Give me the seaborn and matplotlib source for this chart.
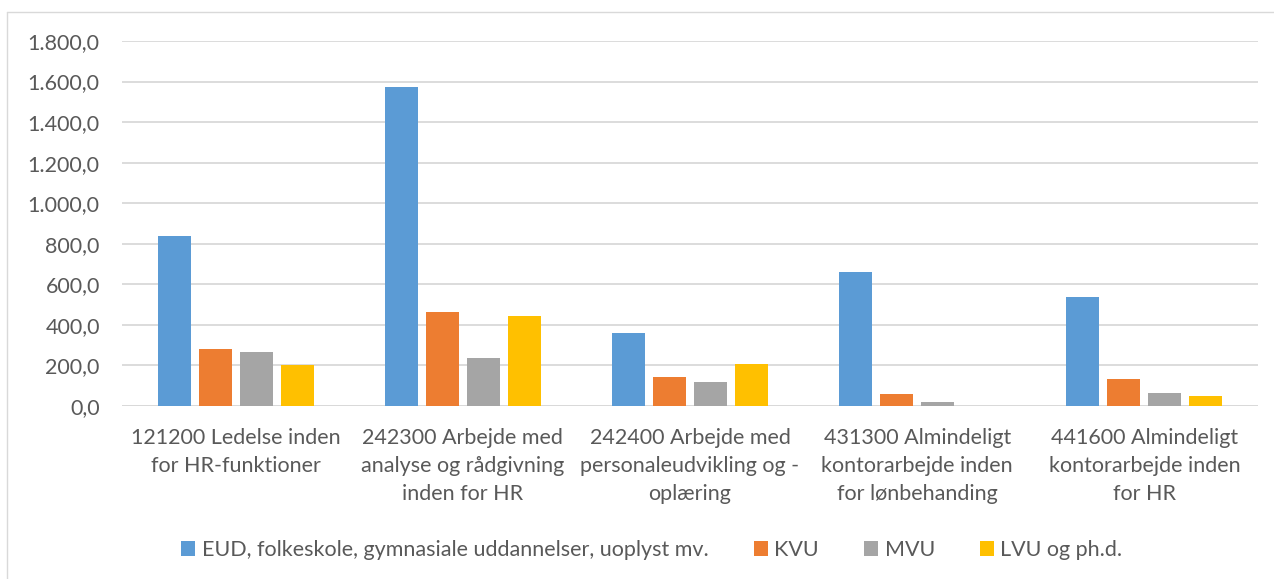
import numpy as np
import pandas as pd
import matplotlib
matplotlib.use("Agg")
import matplotlib.pyplot as plt
from matplotlib.ticker import FuncFormatter, MultipleLocator
from matplotlib.lines import Line2D
import seaborn as sns

# categories (job functions) and education groups
categories = [
    "121200 Ledelse inden\nfor HR-funktioner",
    "242300 Arbejde med\nanalyse og rådgivning\ninden for HR",
    "242400 Arbejde med\npersonaleudvikling og -\noplæring",
    "431300 Almindeligt\nkontorarbejde inden\nfor lønbehanding",
    "441600 Almindeligt\nkontorarbejde inden\nfor HR",
]
series = ["EUD, folkeskole, gymnasiale uddannelser, uoplyst mv.",
          "KVU", "MVU", "LVU og ph.d."]

eud = [838, 1574, 360, 661, 539]
kvu = [282, 462, 145, 58, 132]
mvu = [265, 239, 120, 21, 63]
lvu = [202, 443, 207, np.nan, 51]

colors = ["#5B9BD5", "#ED7D31", "#A5A5A5", "#FFC000"]
TXT = "#595959"
GRID = "#D9D9D9"
FS = 15.5

rows = []
for name, vals in zip(series, [eud, kvu, mvu, lvu]):
    for cat, v in zip(categories, vals):
        rows.append({"kategori": cat, "uddannelse": name, "antal": v})
df = pd.DataFrame(rows)

sns.set_theme(style="white")
plt.rcParams["font.family"] = ["Lato", "DejaVu Sans"]

fig = plt.figure(figsize=(12.74, 5.79), dpi=100)
ax = fig.add_axes([122 / 1274, 1 - 406 / 579, (1258 - 122) / 1274, (406 - 41) / 579])

sns.barplot(data=df, x="kategori", y="antal", hue="uddannelse",
            order=categories, hue_order=series, palette=colors, saturation=1,
            width=0.722, gap=0.195, linewidth=0, errorbar=None, ax=ax,
            legend=True)

ax.set_ylim(0, 1800)
ax.set_xlim(-0.5, len(categories) - 0.5)
ax.yaxis.set_major_locator(MultipleLocator(200))
ax.yaxis.set_major_formatter(FuncFormatter(
    lambda v, p: f"{v:,.1f}".replace(",", "X").replace(".", ",").replace("X", ".")))
ax.grid(axis="y", color=GRID, linewidth=1.3)
ax.set_axisbelow(True)
for s in ax.spines.values():
    s.set_visible(False)
ax.axhline(0, color=GRID, linewidth=2, zorder=0.5)
ax.set_xlabel("")
ax.set_ylabel("")
ax.tick_params(axis="both", length=0, labelsize=FS, labelcolor=TXT)
ax.tick_params(axis="y", pad=16)
ax.tick_params(axis="x", pad=16)
for t in ax.get_xticklabels():
    t.set_linespacing(1.5)

handles, labels = ax.get_legend_handles_labels()
ax.get_legend().remove()
fig.legend(handles, labels, loc="center", ncol=4,
           bbox_to_anchor=(652 / 1274, 1 - 550 / 579), frameon=False,
           fontsize=FS, labelcolor=TXT, handlelength=0.65, handleheight=0.65,
           handletextpad=0.3, columnspacing=2.1)

# outer chart frame (only left and top edges fall inside the picture)
fig.add_artist(Line2D([7 / 1274, 7 / 1274], [0, 1 - 12 / 579],
                      transform=fig.transFigure, color=GRID, linewidth=1))
fig.add_artist(Line2D([7 / 1274, 1], [1 - 12 / 579, 1 - 12 / 579],
                      transform=fig.transFigure, color=GRID, linewidth=1))

fig.savefig("out.png", dpi=100)
plt.close(fig)
